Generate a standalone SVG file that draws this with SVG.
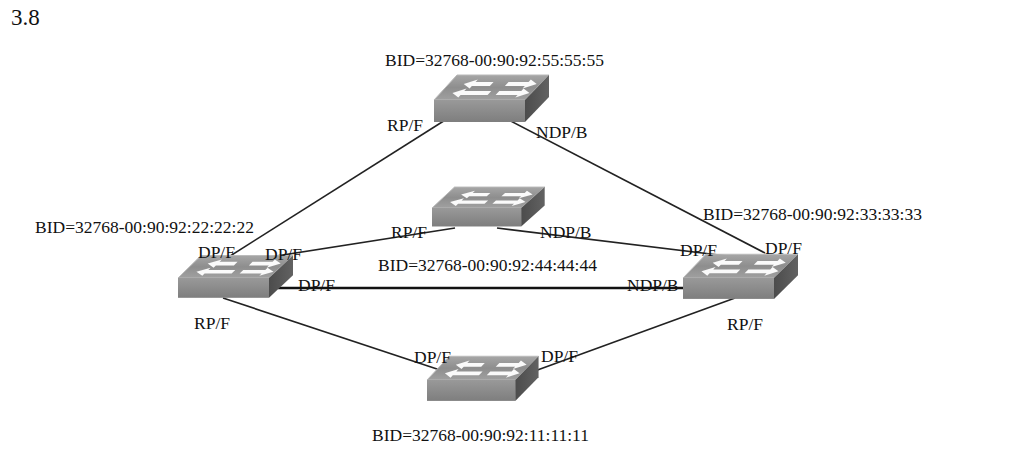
<svg xmlns="http://www.w3.org/2000/svg" xmlns:xlink="http://www.w3.org/1999/xlink" width="1024" height="456" viewBox="0 0 1024 456">
<style>
.lbl{font-family:"Liberation Serif","Times New Roman",serif;font-size:17.5px;fill:#111}
.ln{stroke:#222;stroke-width:1.6;fill:none}
.thick{stroke:#111;stroke-width:2.6;fill:none}
.top{fill:url(#gTop);stroke:#b9b9b9;stroke-width:1}
.front{fill:url(#gFront)}
.side{fill:url(#gSide)}
.arr{fill:#fafafa}
</style>
<defs>
<linearGradient id="gTop" x1="0" y1="0" x2="0" y2="1">
<stop offset="0" stop-color="#a6a6a6"/><stop offset="0.5" stop-color="#8e8e8e"/><stop offset="1" stop-color="#a0a0a0"/>
</linearGradient>
<linearGradient id="gFront" x1="0" y1="0" x2="0" y2="1">
<stop offset="0" stop-color="#999"/><stop offset="1" stop-color="#7e7e7e"/>
</linearGradient>
<linearGradient id="gSide" x1="0" y1="0" x2="1" y2="0">
<stop offset="0" stop-color="#4c4c4c"/><stop offset="1" stop-color="#626262"/>
</linearGradient>
<g id="sw">
<polygon class="top" points="0,0 91,0 115,-25 23,-25"/>
<rect class="front" x="0" y="0" width="91" height="22"/>
<polygon class="side" points="91,0 115,-25 115,-3 91,22"/>
<g transform="skewX(-42.6)">
<polygon class="arr" points="15,-16 25,-20.5 25,-18 43,-18 43,-14 25,-14 25,-11.5"/>
<polygon class="arr" points="88,-16 78,-20.5 78,-18 58,-18 58,-14 78,-14 78,-11.5"/>
<polygon class="arr" points="12,-7 22,-11.5 22,-9 49,-9 49,-5 22,-5 22,-2.5"/>
<polygon class="arr" points="89,-7 79,-11.5 79,-9 57,-9 57,-5 79,-5 79,-2.5"/>
</g>
</g>
</defs>
<rect width="1024" height="456" fill="#fff"/>
<g id="connectors">
<line class="ln" x1="450" y1="117" x2="227" y2="258"/>
<line class="ln" x1="505" y1="118" x2="765" y2="253"/>
<line class="ln" x1="270" y1="257" x2="455" y2="228"/>
<line class="ln" x1="497" y1="228" x2="727" y2="256"/>
<line class="thick" x1="278" y1="288" x2="684" y2="288"/>
<line class="ln" x1="223" y1="298" x2="443" y2="371"/>
<line class="ln" x1="735" y1="298" x2="532" y2="372"/>
</g>
<g id="sw55"><use xlink:href="#sw" href="#sw" transform="translate(434,100)"/></g>
<g id="sw44"><use xlink:href="#sw" href="#sw" transform="translate(432,208) scale(0.98,0.84)"/></g>
<g id="sw22"><use xlink:href="#sw" href="#sw" transform="translate(178,278) scale(1.0,0.9)"/></g>
<g id="sw33"><use xlink:href="#sw" href="#sw" transform="translate(683,278) scale(1.0,0.95)"/></g>
<g id="sw11"><use xlink:href="#sw" href="#sw" transform="translate(427,380) scale(0.97,0.95)"/></g>
<g id="labels">
<text class="lbl" x="11" y="25" style="font-size:23px">3.8</text>
<text class="lbl" x="385" y="66">BID=32768-00:90:92:55:55:55</text>
<text class="lbl" x="387" y="131">RP/F</text>
<text class="lbl" x="536" y="138">NDP/B</text>
<text class="lbl" x="703" y="220">BID=32768-00:90:92:33:33:33</text>
<text class="lbl" x="35" y="233">BID=32768-00:90:92:22:22:22</text>
<text class="lbl" x="198" y="258">DP/F</text>
<text class="lbl" x="265" y="260">DP/F</text>
<text class="lbl" x="391" y="238">RP/F</text>
<text class="lbl" x="540" y="238">NDP/B</text>
<text class="lbl" x="680" y="256">DP/F</text>
<text class="lbl" x="765" y="254">DP/F</text>
<text class="lbl" x="378" y="271">BID=32768-00:90:92:44:44:44</text>
<text class="lbl" x="298" y="291">DP/F</text>
<text class="lbl" x="627" y="291">NDP/B</text>
<text class="lbl" x="194" y="329">RP/F</text>
<text class="lbl" x="727" y="330">RP/F</text>
<text class="lbl" x="414" y="363">DP/F</text>
<text class="lbl" x="541" y="362">DP/F</text>
<text class="lbl" x="372" y="441">BID=32768-00:90:92:11:11:11</text>
</g>
</svg>
